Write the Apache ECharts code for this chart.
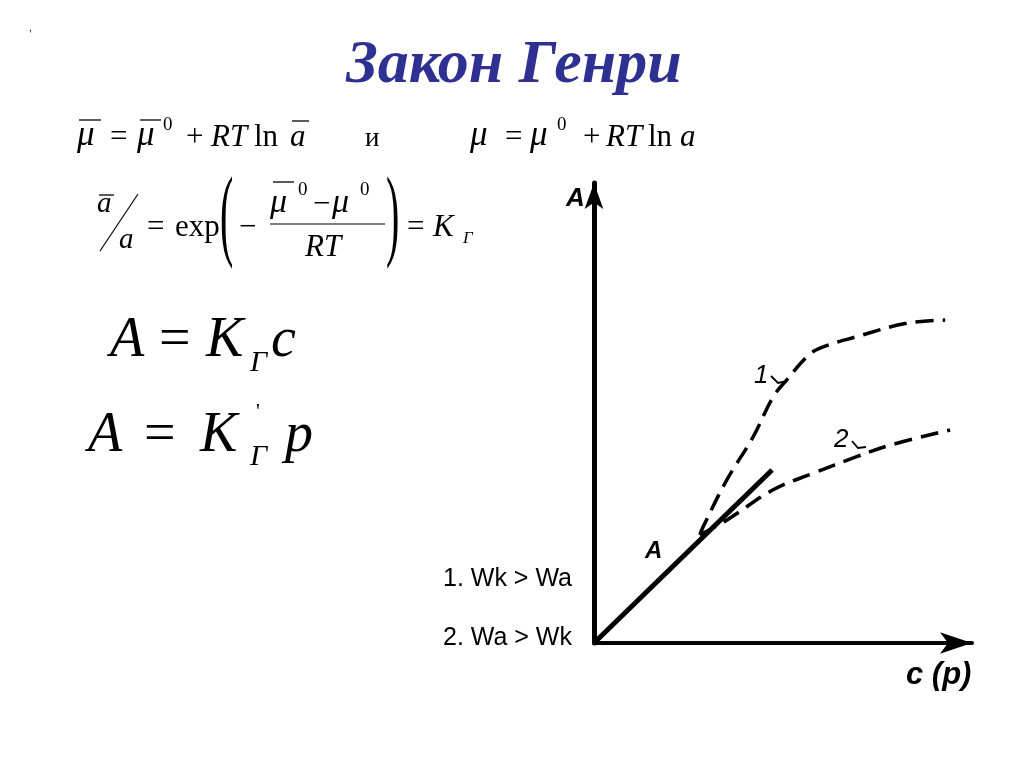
<!DOCTYPE html>
<html>
<head>
<meta charset="utf-8">
<script src="https://cdn.jsdelivr.net/npm/echarts@6/dist/echarts.min.js"></script>
<style>
html,body{margin:0;padding:0;background:#fff;}
#c{width:1024px;height:767px;}
</style>
</head>
<body>
<div id="c"></div>
<script>
// ---- data ----
var titleText = 'Закон Генри';
var tangentLine = [[0, 0], [47.1, 37.6]];
var curve1 = [[28.0, 23.5], [28.9, 25.3], [35.1, 35.4], [42.1, 44.8], [47.4, 53.5], [51.0, 57.2], [56.3, 62.2], [59.8, 64.1], [69.5, 66.6], [82.7, 69.5], [92.9, 70.2]];
var curve2 = [[28.0, 23.5], [35.1, 26.7], [47.4, 33.3], [58.0, 36.9], [69.5, 40.5], [78.3, 43.0], [94.2, 46.3]];
var legendLines = ['1. Wk > Wa', '2. Wa > Wk'];
var axisNames = {y: 'A', x: 'c (p)'};
var curveLabels = ['1', '2', 'A'];

var SERIF = '"Liberation Serif","Times New Roman",serif';
var SANS = '"Liberation Sans",Arial,sans-serif';

var g = [];
function T(x, base, text, fs, opt) {
  opt = opt || {};
  var style = opt.style || '';
  var fam = opt.family || SERIF;
  g.push({
    type: 'text', x: x, y: base - (opt.k || 0.34) * fs,
    scaleX: opt.sx || 1, scaleY: opt.sy || 1,
    style: {
      text: text,
      font: style + ' ' + fs + 'px ' + fam,
      fill: opt.color || '#000',
      align: opt.align || 'left',
      verticalAlign: 'middle'
    },
    z: 100
  });
}
function L(x1, y1, x2, y2, w) {
  g.push({type: 'line', shape: {x1: x1, y1: y1, x2: x2, y2: y2}, style: {stroke: '#000', lineWidth: w || 1.3}, z: 100});
}
function P(points, w) {
  g.push({type: 'polyline', shape: {points: points}, style: {stroke: '#000', lineWidth: w || 1.5, fill: null}, z: 100});
}

// title
T(514, 87, titleText, 62, {style: 'italic bold', align: 'center', color: '#2E3192'});
T(29, 32, ',', 10, {family: SANS});

// ---- line 1 ----
var f1 = 31, fm = 35, b1 = 148;
T(77, b1, 'μ', fm, {style: 'italic'}); L(79, 120, 101, 120);
T(110, b1, '=', f1);
T(137, b1, 'μ', fm, {style: 'italic'}); L(140, 120, 161, 120);
T(163, 131, '0', 19);
T(186, b1, '+', f1);
T(211, b1, 'RT', f1, {style: 'italic'});
T(254, b1, 'ln', f1);
T(290, b1, 'a', f1, {style: 'italic'}); L(292, 121, 309, 121);
T(365, b1, 'и', 27);

T(470, b1, 'μ', fm, {style: 'italic'});
T(505, b1, '=', f1);
T(530, b1, 'μ', fm, {style: 'italic'});
T(557, 131, '0', 19);
T(583, b1, '+', f1);
T(606, b1, 'RT', f1, {style: 'italic'});
T(648, b1, 'ln', f1);
T(680, b1, 'a', f1, {style: 'italic'});

// ---- line 2 ----
var f2 = 31, b2 = 238;
T(97, 214, 'a', 29, {style: 'italic'}); L(99, 195, 114, 195);
L(100, 251, 138, 194, 1.2);
T(119, 250, 'a', 29, {style: 'italic'});
T(147, b2, '=', f2);
T(175, b2, 'exp', f2);
T(220, 234, '(', 40, {sy: 2.55});
T(239, b2, '−', f2);
T(270, 215, 'μ', 34, {style: 'italic'}); L(273, 182, 294, 182);
T(298, 196, '0', 19);
T(313, 215, '−', f2);
T(332, 215, 'μ', 34, {style: 'italic'});
T(360, 196, '0', 19);
L(270, 224, 385, 224, 1.2);
T(305, 258, 'RT', f2, {style: 'italic'});
T(386, 234, ')', 40, {sy: 2.55});
T(407, b2, '=', f2);
T(433, b2, 'K', f2, {style: 'italic'});
T(463, 244, 'Г', 17, {style: 'italic'});

// ---- line 3 / 4 ----
T(110, 360, 'A', 56, {style: 'italic'});
T(159, 360, '=', 56);
T(206, 360, 'K', 56, {style: 'italic'});
T(250, 373, 'Г', 30, {style: 'italic'});
T(271, 360, 'c', 56, {style: 'italic'});

T(88, 455, 'A', 56, {style: 'italic'});
T(144, 455, '=', 56);
T(200, 455, 'K', 56, {style: 'italic'});
T(256, 420, "'", 22);
T(250, 467, 'Г', 30, {style: 'italic'});
T(285, 455, 'p', 56, {style: 'italic'});

// ---- side legend ----
T(443, 588, legendLines[0], 25, {family: SANS, k: 0.35});
T(443, 647, legendLines[1], 25, {family: SANS, k: 0.35});

// chart annotations
T(566, 208, axisNames.y, 26, {style: 'italic bold', family: SANS, k: 0.35});
T(906, 686, axisNames.x, 31, {style: 'italic bold', family: SANS, k: 0.35});
T(645, 560, curveLabels[2], 24, {style: 'italic bold', family: SANS, k: 0.35});
T(754, 385, curveLabels[0], 26, {style: 'italic', family: SANS, k: 0.35});
P([[771, 376], [778, 383], [787, 381]], 1.8);
T(834, 449, curveLabels[1], 26, {style: 'italic', family: SANS, k: 0.35});
P([[852, 441], [858, 448], [866, 447]], 1.8);

var chart = echarts.init(document.getElementById('c'), null, {renderer: 'canvas'});
chart.setOption({
  backgroundColor: '#fff',
  animation: false,
  grid: {left: 594, right: 52, top: 183, bottom: 124, containLabel: false},
  xAxis: {
    type: 'value', min: 0, max: 100,
    axisLine: {show: true, symbol: ['none', 'arrow'], symbolSize: [16, 32], symbolOffset: [0, 0], lineStyle: {color: '#000', width: 4}},
    axisTick: {show: false}, axisLabel: {show: false}, splitLine: {show: false}
  },
  yAxis: {
    type: 'value', min: 0, max: 100,
    axisLine: {show: true, symbol: ['none', 'arrow'], symbolSize: [14, 26], symbolOffset: [0, 0], lineStyle: {color: '#000', width: 5}},
    axisTick: {show: false}, axisLabel: {show: false}, splitLine: {show: false}
  },
  series: [
    {type: 'line', data: tangentLine, symbol: 'none', lineStyle: {color: '#000', width: 5}, z: 5},
    {type: 'line', data: curve1, symbol: 'none', smooth: 0.4, lineStyle: {color: '#000', width: 3.5, type: [18, 9]}},
    {type: 'line', data: curve2, symbol: 'none', smooth: 0.4, lineStyle: {color: '#000', width: 3.5, type: [18, 9]}}
  ],
  graphic: g
});
</script>
</body>
</html>
